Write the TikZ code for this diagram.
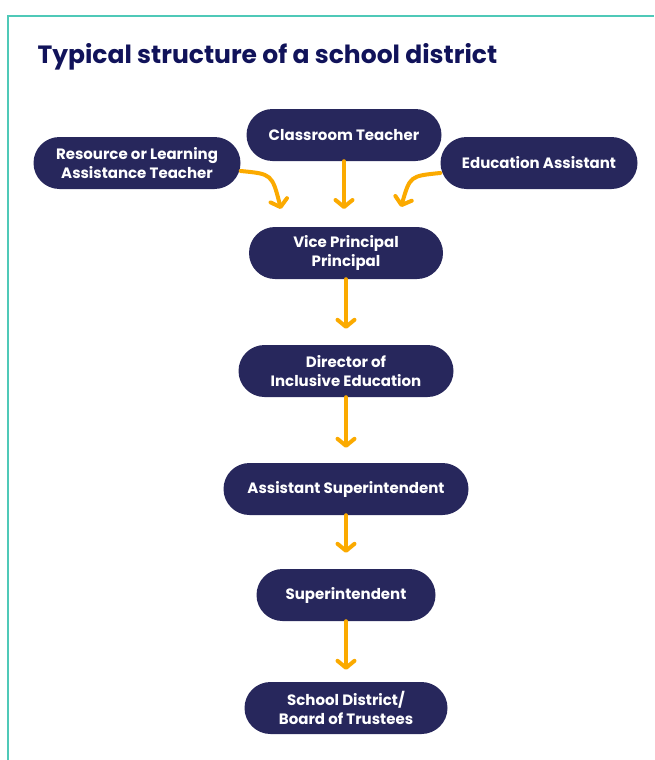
\documentclass[tikz,border=0pt]{standalone}
\usepackage{fontspec}
\setmainfont{Poppins}
\usetikzlibrary{arrows.meta}
\definecolor{navy}{HTML}{27275C}
\definecolor{titlec}{HTML}{11135A}
\definecolor{arr}{HTML}{FBAA00}
\definecolor{teal}{HTML}{4FC9B8}
\begin{document}
\begin{tikzpicture}[x=1pt,y=-1pt,
  box/.style={fill=navy, text=white, rounded corners=26pt, minimum height=52pt, inner sep=0pt, align=center, font=\bfseries\fontsize{15}{19}\selectfont},
  conn/.style={draw=arr, line width=4pt, line cap=round, -{Straight Barb[length=7pt,width=17pt,line cap=round,line join=round]}}]
\useasboundingbox (0,0) rectangle (654,760);
\draw[teal, line width=1.5pt] (8,760) -- (8,16) -- (654,16);
\node[anchor=west, text=titlec, font=\bfseries\fontsize{25}{30}\selectfont] (title) at (34,57) {Typical structure of a school district};
\node[box, minimum width=195pt] (ct) at (344,135) {Classroom Teacher};
\node[box, minimum width=207pt] (rl) at (137,163) {Resource or Learning\\Assistance Teacher};
\node[box, minimum width=197pt] (ea) at (539,163) {Education Assistant};
\node[box, minimum width=194pt] (vp) at (346,253) {Vice Principal\\Principal};
\node[box, minimum width=215pt] (dir) at (346,371) {Director of\\Inclusive Education};
\node[box, minimum width=245pt] (as) at (346,489) {Assistant Superintendent};
\node[box, minimum width=179pt] (sup) at (346,595) {Superintendent};
\node[box, minimum width=203pt] (sd) at (346,708) {School District/\\Board of Trustees};
\coordinate (a1) at (344,209);
\coordinate (a2) at (281,209);
\coordinate (a3) at (401,207);
\draw[conn] (ct.south) -- (a1);
\draw[conn] ([yshift=-8pt]rl.east) .. controls (272,174) .. (a2);
\draw[conn] ([yshift=-10pt]ea.west) .. controls (410,176) .. (a3);
\draw[conn] (vp.south) -- ([yshift=16pt]dir.north);
\draw[conn] (dir.south) -- ([yshift=15pt]as.north);
\draw[conn] (as.south) -- ([yshift=16pt]sup.north);
\draw[conn] (sup.south) -- ([yshift=12pt]sd.north);
\end{tikzpicture}
\end{document}
